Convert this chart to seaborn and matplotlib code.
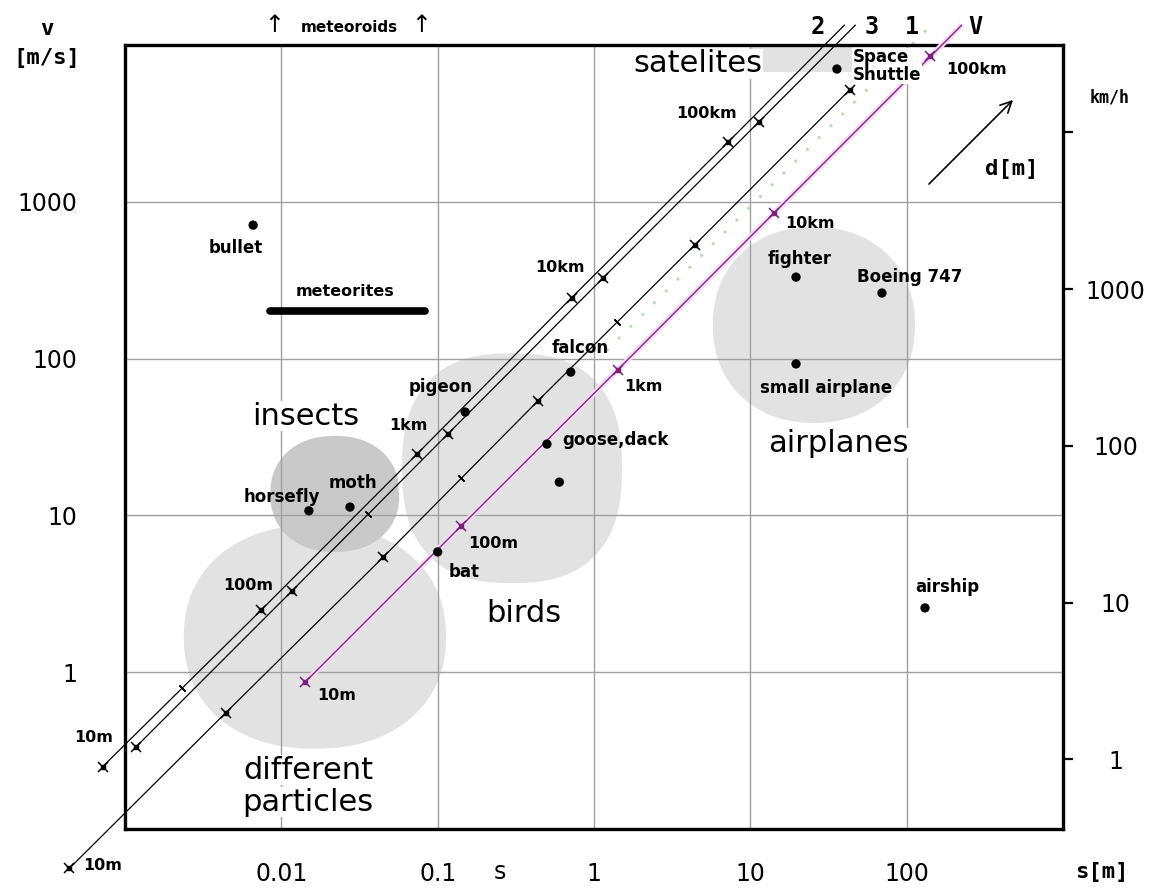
import numpy as np
import matplotlib
matplotlib.use("Agg")
import matplotlib.pyplot as plt
import seaborn as sns

# ==============================
# DATA (size s [m], speed v [m/s])
# ==============================
obj_names = ["bullet", "horsefly", "moth", "pigeon", "falcon", "goose,dack", "",
             "bat", "fighter", "Boeing 747", "small airplane", "airship", "Space\nShuttle"]
obj_size = [0.0066, 0.015, 0.0275, 0.15, 0.71, 0.5, 0.6, 0.1, 19.6, 69.5, 19.6, 131, 35.8]
obj_speed = [710, 10.7, 11.3, 45.6, 82, 28.5, 16.3, 5.85, 331, 262, 92.5, 2.57, 7030]

# distance lines, markers at 10m, 100m, 1km, 10km, 100km
line2_s = [0.00072, 0.0074, 0.074, 0.72, 7.2]
line2_v = [0.25, 2.48, 24.7, 245, 2400]
line2_end = (40, 13400)
line3_s = [0.00118, 0.0117, 0.116, 1.14, 11.4]
line3_v = [0.335, 3.3, 33, 326, 3250]
line3_end = (47, 13400)
line1_s = [0.00044, 0.0044, 0.0447, 0.44, 4.4, 43.4]
line1_v = [0.056, 0.55, 5.4, 54, 530, 5200]
line1_green_s = [1.2, 144]
line1_green_v = [112, 13400]
lineV_s = [0.0142, 0.142, 1.42, 14.2, 142]
lineV_v = [0.865, 8.6, 85, 850, 8450]
lineV_end = (225, 13400)
minor_s = [0.0023, 0.0358, 0.14, 1.4]
minor_v = [0.79, 10.2, 17.2, 172]

meteorite_s = [0.0085, 0.083]
meteorite_v = [200, 200]
satellite_s = [10, 45]
satellite_v = [6700, 10000]

# shaded groups: centre s, centre v, radius in decades (x, y), squareness
groups = ["particles", "insects", "birds", "airplanes"]
group_s = [0.0164, 0.022, 0.299, 25.5]
group_v = [1.68, 13.7, 20.0, 164]
group_rx = [0.825, 0.40, 0.716, 0.633]
group_ry = [0.70, 0.357, 0.746, 0.612]
group_p = [2.2, 2.2, 2.5, 2.15]

s_ticks = [0.01, 0.1, 1, 10, 100]
s_tick_labels = ["0.01", "0.1", "1", "10", "100"]
v_ticks = [1, 10, 100, 1000]
v_tick_labels = ["1", "10", "100", "1000"]
kmh_ticks = [1, 10, 100, 1000, 10000]
kmh_tick_labels = ["1", "10", "100", "1000", ""]

# ==============================
# FIGURE
# ==============================
W, H = 1159, 888
sns.set_theme(style="white", rc={"axes.edgecolor": "black", "text.color": "black",
                                 "xtick.color": "black", "ytick.color": "black"})
plt.rcParams["font.family"] = ["DejaVu Sans"]

fig = plt.figure(figsize=(W / 100, H / 100), dpi=100, facecolor="white")
ax = fig.add_axes([125 / W, 1 - 829 / H, 938 / W, 784 / H])
ax.set_xscale("log")
ax.set_yscale("log")
ax.set_xlim(1e-3, 1e3)
ax.set_ylim(0.1, 1e4)
ax.minorticks_off()


def label(px, py, text, **kw):
    kw.setdefault("ha", "center")
    kw.setdefault("va", "center")
    fig.text(px / W, 1 - py / H, text, **kw)


# shaded groups
t = np.linspace(0, 2 * np.pi, 300)
for i, g in enumerate(groups):
    c, sn = np.cos(t), np.sin(t)
    dx = group_rx[i] * np.sign(c) * np.abs(c) ** (2 / group_p[i])
    dy = group_ry[i] * np.sign(sn) * np.abs(sn) ** (2 / group_p[i])
    col = "#c9c9c9" if g == "insects" else "#e2e2e2"
    ec = "white" if g == "birds" else col
    ax.fill(group_s[i] * 10 ** dx, group_v[i] * 10 ** dy, color=col, ec=ec, lw=3, zorder=0.2)

ax.fill_between(satellite_s, satellite_v[0], satellite_v[1], color="#e2e2e2", lw=0, zorder=0.2)

# grid + frame
ax.set_axisbelow(True)
ax.grid(True, which="major", color="#a0a0a0", lw=1.0)
for sp in ax.spines.values():
    sp.set_linewidth(2.4)
    sp.set_color("black")

# distance lines
def dist_line(s, v, end, color, lw):
    xs = list(s) + ([end[0]] if end else [])
    ys = list(v) + ([end[1]] if end else [])
    ax.plot(xs, ys, color=color, lw=lw, clip_on=False, zorder=3)


def markers(s, v, color):
    ax.plot(s, v, ls="none", marker="s", ms=3.5, color=color, clip_on=False, zorder=4)
    ax.plot(s, v, ls="none", marker="x", ms=7, mew=1.1, color=color, clip_on=False, zorder=4)


ax.plot(line1_green_s, line1_green_v, color="#b2dfa8", lw=2, ls=(0, (1, 5)), clip_on=False, zorder=2.5)
ax.plot(lineV_s + [lineV_end[0]], lineV_v + [lineV_end[1]], color="#f5dcf5", lw=4,
        clip_on=False, zorder=2.6, solid_capstyle="butt")
dist_line(lineV_s, lineV_v, lineV_end, "#862486", 1.0)
dist_line(line2_s, line2_v, line2_end, "black", 0.9)
dist_line(line3_s, line3_v, line3_end, "black", 0.9)
dist_line(line1_s, line1_v, None, "black", 0.9)
markers(line2_s, line2_v, "black")
markers(line3_s, line3_v, "black")
markers(line1_s, line1_v, "black")
markers(lineV_s, lineV_v, "#7a1f7a")
ax.plot(minor_s, minor_v, ls="none", marker=(2, 2, 45), ms=6, mew=1.0, color="black", zorder=4)

# meteorites bar
ax.plot(meteorite_s, meteorite_v, color="black", lw=5.5, solid_capstyle="round", zorder=3)

# objects
sns.scatterplot(x=obj_size, y=obj_speed, color="black", s=45, edgecolor="none",
                ax=ax, zorder=5, legend=False)

offsets = {"bullet": (-17, -23, "center"), "horsefly": (-27, 14, "center"),
           "moth": (3, 24, "center"), "pigeon": (-25, 25, "center"),
           "falcon": (9, 24, "center"), "goose,dack": (15, 4, "left"),
           "bat": (26, -20, "center"), "fighter": (4, 18, "center"),
           "Boeing 747": (28, 16, "center"), "small airplane": (30, -24, "center"),
           "airship": (22, 21, "center"), "Space\nShuttle": (16, 3, "left")}
for name, s, v in zip(obj_names, obj_size, obj_speed):
    if not name:
        continue
    dx, dy, ha = offsets[name]
    bbox = dict(fc="white", ec="none", pad=0.5) if "Shuttle" in name else None
    ax.annotate(name, (s, v), xytext=(dx * 0.72, dy * 0.72), textcoords="offset points",
                ha=ha, va="center", fontsize=12, fontweight="bold",
                linespacing=0.95, bbox=bbox, zorder=6)

# ticks
ax.set_xticks(s_ticks)
ax.set_xticklabels(s_tick_labels, fontsize=17)
ax.set_yticks(v_ticks)
ax.set_yticklabels(v_tick_labels, fontsize=17)
ax.tick_params(axis="x", length=0, pad=24)
ax.tick_params(axis="y", length=0, pad=34)

ax2 = ax.twinx()
ax2.set_yscale("log")
ax2.set_ylim(0.1 * 3.6, 1e4 * 3.6)
ax2.minorticks_off()
ax2.set_yticks(kmh_ticks)
ax2.set_yticklabels(kmh_tick_labels, fontsize=17, ha="center")
ax2.tick_params(axis="y", which="major", right=True, labelright=True, left=False,
                length=7, width=1.6, direction="out", pad=31, color="black")
for sp in ax2.spines.values():
    sp.set_visible(False)

# ==============================
# TEXT
# ==============================
mono = dict(family="DejaVu Sans Mono", fontweight="bold")
label(47, 29, "v", fontsize=16, **mono)
label(47, 58, "[m/s]", fontsize=16, **mono)
label(1102, 872, "s[m]", fontsize=16, **mono)
label(500, 872, "s", fontsize=17)
label(1110, 97, "km/h", fontsize=12, **mono)
label(1012, 169, "d[m]", fontsize=16, **mono)
label(818, 27, "2", fontsize=17, **mono)
label(872, 27, "3", fontsize=17, **mono)
label(912, 27, "1", fontsize=17, **mono)
label(975, 27, "V", fontsize=17, **mono)

label(274, 25, "↑", fontsize=17)
label(421, 25, "↑", fontsize=17)
label(349, 27, "meteoroids", fontsize=11, fontweight="bold")
label(345, 291, "meteorites", fontsize=11.5, fontweight="bold")

big = dict(fontsize=22, bbox=dict(fc="white", ec="none", pad=0.5))
label(698, 64, "satelites", **big)
label(306, 416, "insects", **big)
label(524, 613, "birds", **big)
label(838, 443, "airplanes", **big)
label(308, 770, "different", **big)
label(308, 802, "particles", **big)

dist = dict(fontsize=11.5, fontweight="bold")
label(94, 737, "10m", **dist)
label(103, 865, "10m", **dist)
label(248, 585, "100m", **dist)
label(408, 425, "1km", **dist)
label(560, 267, "10km", **dist)
label(707, 113, "100km", **dist)
label(337, 695, "10m", **dist)
label(493, 543, "100m", **dist)
label(643, 386, "1km", **dist)
label(810, 223, "10km", **dist)
label(977, 70, "100km", **dist)

ax.annotate("", xy=(1015 / W, 1 - 98 / H), xytext=(927 / W, 1 - 186 / H),
            xycoords="figure fraction", textcoords="figure fraction",
            arrowprops=dict(arrowstyle="->", lw=1.2, color="black", mutation_scale=20))

fig.savefig("out.png", dpi=100, facecolor="white")
